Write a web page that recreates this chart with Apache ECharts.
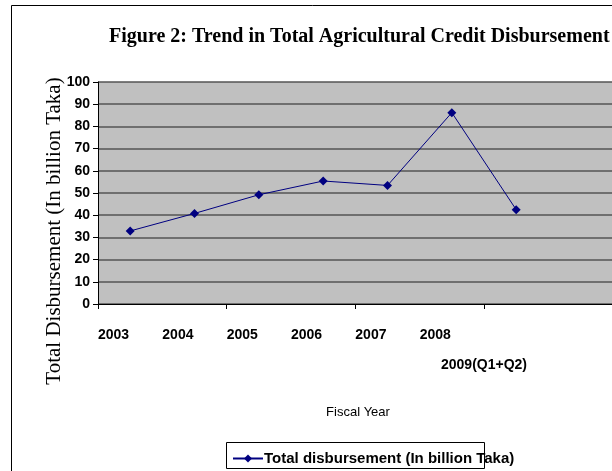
<!DOCTYPE html>
<html>
<head>
<meta charset="utf-8">
<script src="https://cdn.jsdelivr.net/npm/echarts@6/dist/echarts.min.js"></script>
<style>
  html, body { margin: 0; padding: 0; background: #fff; }
  #chart { width: 612px; height: 471px; }
</style>
</head>
<body>
<div id="chart"></div>
<script>
// Fiscal years on the category axis (the last two slots are left empty)
const years = ['2003', '2004', '2005', '2006', '2007', '2008', '2009(Q1+Q2)', '', ''];
// Total agricultural credit disbursement, billion Taka
const disbursement = [32.9, 40.8, 49.2, 55.4, 53.4, 86.2, 42.5];
// Value axis ticks
const yTicks = { min: 0, max: 100, interval: 10 };

const seriesName = 'Total disbursement (In billion Taka)';
const navy = '#000080';
const boldArial = { fontFamily: 'Liberation Sans, Arial, sans-serif', fontWeight: 'bold', fontSize: 14, color: '#000' };

// Label axis: one tick more than the data axis, labels hung on the ticks
const labelData = years.slice(0, 6).map(v => ({ value: v, textStyle: { align: 'left' } }));
labelData.push({ value: '\n' + years[6], textStyle: { align: 'center', lineHeight: 25 } });
labelData.push('', '', '');

const chart = echarts.init(document.getElementById('chart'), null, { renderer: 'canvas' });
chart.setOption({
  animation: false,
  backgroundColor: '#fff',
  title: {
    text: 'Figure 2: Trend in Total Agricultural Credit Disbursement',
    left: 104, top: 22,
    textStyle: { fontFamily: 'Liberation Serif, Times New Roman, serif', fontWeight: 'bold', fontSize: 20, color: '#000' }
  },
  grid: {
    left: 98, top: 82, width: 579, height: 222, containLabel: false, outerBoundsMode: 'none',
    backgroundColor: '#c0c0c0', show: true, borderWidth: 0
  },
  xAxis: [
    {
      type: 'category', data: years, boundaryGap: true,
      axisLine: { lineStyle: { color: '#000', width: 1 } },
      axisTick: { show: true, length: 5, inside: false, lineStyle: { color: '#000' } },
      axisLabel: { show: false },
      splitLine: { show: false }
    },
    {
      type: 'category', data: labelData, boundaryGap: false, position: 'bottom',
      axisLine: { show: false }, axisTick: { show: false },
      axisLabel: Object.assign({ margin: 24, interval: 0, verticalAlign: 'top' }, boldArial),
      splitLine: { show: false }
    }
  ],
  yAxis: {
    type: 'value', min: yTicks.min, max: yTicks.max, interval: yTicks.interval,
    axisLine: { show: true, lineStyle: { color: '#000', width: 1 } },
    axisTick: { show: true, length: 5, lineStyle: { color: '#000' } },
    axisLabel: Object.assign({ margin: 8 }, boldArial),
    splitLine: { show: true, lineStyle: { color: '#555', width: 1.5 } }
  },
  legend: {
    data: [seriesName],
    left: 227, top: 446,
    itemWidth: 30, itemHeight: 10, itemGap: 0,
    textStyle: Object.assign({}, boldArial, { fontSize: 15, padding: [0, 0, 0, -4] })
  },
  graphic: [
    { type: 'rect', shape: { x: 11.5, y: 5.5, width: 700, height: 600 }, style: { fill: null, stroke: '#000', lineWidth: 1 }, silent: true, z: -10 },
    { type: 'rect', shape: { x: 226.5, y: 442.5, width: 258, height: 26 }, style: { fill: null, stroke: '#000', lineWidth: 1 }, silent: true },
    {
      type: 'text', x: 54, y: 231, rotation: Math.PI / 2,
      style: { text: 'Total Disbursement (In billion Taka)', fill: '#000', font: '21px "Liberation Serif", "Times New Roman", serif', textAlign: 'center', textVerticalAlign: 'middle' }
    },
    {
      type: 'text', x: 358, y: 412,
      style: { text: 'Fiscal Year', fill: '#000', font: '13px "Liberation Sans", Arial, sans-serif', textAlign: 'center', textVerticalAlign: 'middle' }
    }
  ],
  series: [{
    name: seriesName,
    type: 'line',
    xAxisIndex: 0,
    data: disbursement,
    symbol: 'diamond', symbolSize: 9,
    lineStyle: { color: navy, width: 1 },
    itemStyle: { color: navy },
    z: 5
  }]
});
</script>
</body>
</html>
